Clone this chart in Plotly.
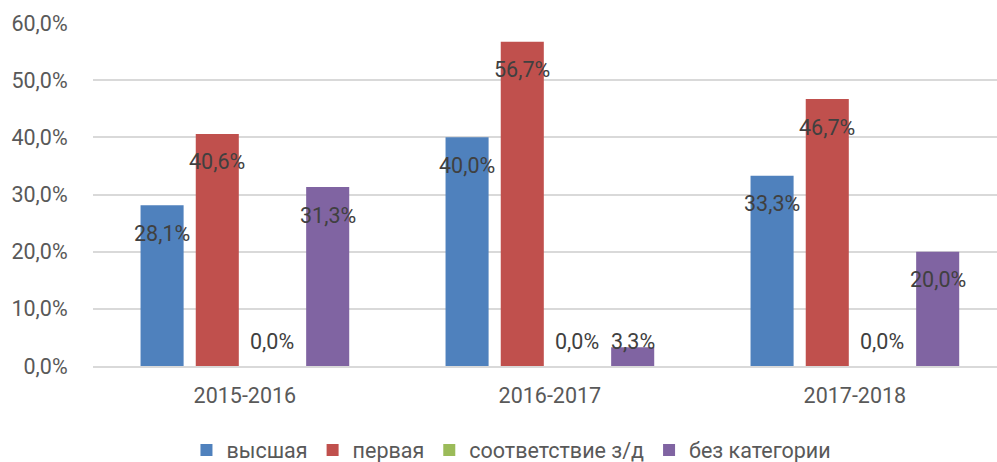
import plotly.graph_objects as go

categories = ["2015-2016", "2016-2017", "2017-2018"]
series_names = ["высшая", "первая", "соответствие з/д", "без категории"]
vysshaya = [28.1, 40.0, 33.3]
pervaya = [40.6, 56.7, 46.7]
sootv = [0.0, 0.0, 0.0]
bez_kat = [31.3, 3.3, 20.0]
series_values = [vysshaya, pervaya, sootv, bez_kat]
colors = ["#4F81BD", "#C0504D", "#9BBB59", "#8064A2"]
y_ticks = [0, 10, 20, 30, 40, 50, 60]

FONT = "Roboto, 'Noto Sans', sans-serif"
FS = 21.5
BARGAP = 0.276
BARGROUPGAP = 0.22

fig = go.Figure()
for name, vals, col in zip(series_names, series_values, colors):
    fig.add_trace(go.Bar(
        x=categories, y=vals, name=name,
        marker=dict(color=col, line=dict(width=0)),
        hoverinfo="skip",
    ))

plot_h = 343.0
px_per_unit = plot_h / 60.0
slot = (1 - BARGAP) / len(series_names)

annotations = []
for i, vals in enumerate(series_values):
    for j, v in enumerate(vals):
        txt = f"{v:.1f}".replace(".", ",") + "%"
        if v * px_per_unit >= 53:
            yv, ys = v, -28
        else:
            yv, ys = 0, 25
        annotations.append(dict(
            x=j + (i - (len(series_names) - 1) / 2) * slot,
            y=yv, xref="x", yref="y", yshift=ys,
            text=txt, showarrow=False, xanchor="center", yanchor="middle",
            font=dict(family=FONT, size=FS, color="#404040"),
        ))

fig.update_layout(
    width=997, height=462,
    margin=dict(l=93, r=0, t=23, b=96, autoexpand=False),
    paper_bgcolor="white", plot_bgcolor="white",
    barmode="group", bargap=BARGAP, bargroupgap=BARGROUPGAP,
    separators=", ",
    font=dict(family=FONT, size=FS, color="#595959"),
    showlegend=True,
    legend=dict(orientation="h", xref="container", yref="container",
                x=0.513, xanchor="center", y=0.026, yanchor="middle",
                font=dict(family=FONT, size=FS, color="#595959"),
                itemwidth=30, tracegroupgap=0),
    annotations=annotations,
    xaxis=dict(
        type="category", range=[-0.498, 2.466], automargin=False,
        showgrid=False, showline=True, linecolor="#D9D9D9", linewidth=1.5,
        ticks="outside", ticklen=9, tickcolor="rgba(0,0,0,0)",
        tickfont=dict(family=FONT, size=FS, color="#595959"),
        fixedrange=True,
    ),
    yaxis=dict(
        range=[0, 60], tickvals=y_ticks, automargin=False,
        ticktext=[f"{t:.1f}".replace(".", ",") + "%" for t in y_ticks],
        showgrid=True, gridcolor="#D9D9D9", gridwidth=1.5,
        zeroline=False, showline=False,
        ticks="outside", ticklen=20, tickcolor="rgba(0,0,0,0)",
        tickfont=dict(family=FONT, size=FS, color="#595959"),
        fixedrange=True,
    ),
)

fig.write_html("out.html", config={"displayModeBar": False},
               post_script="document.body.style.margin='0';")
